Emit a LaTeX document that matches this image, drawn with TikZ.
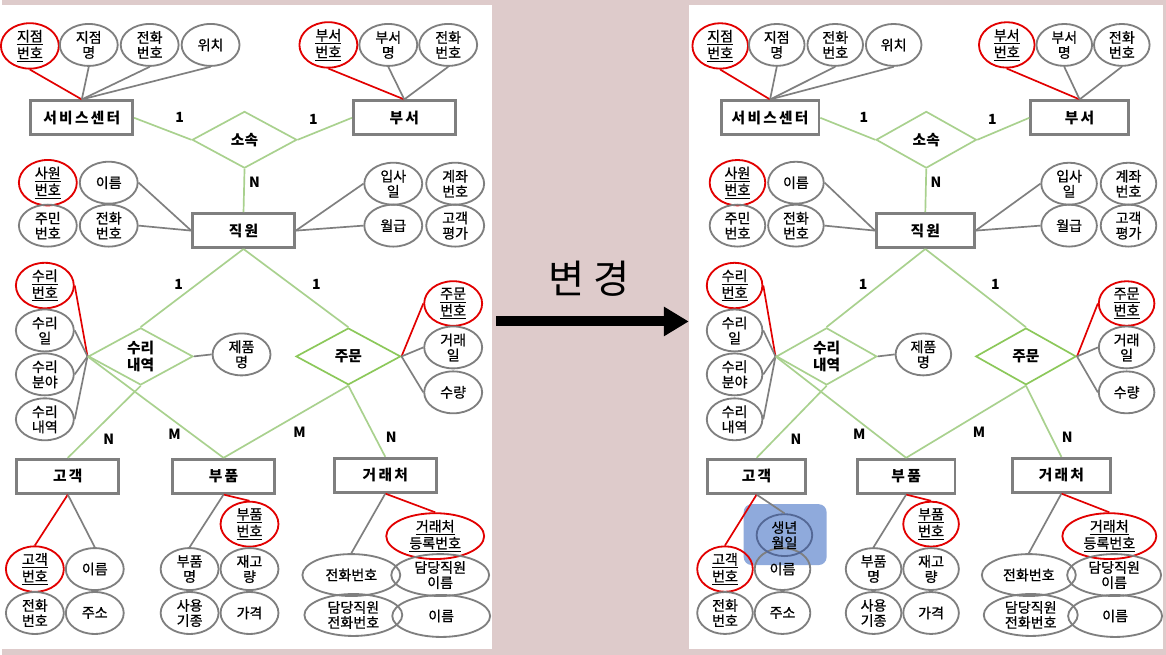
\documentclass[tikz,border=0pt]{standalone}
\usepackage{fontspec}
\setmainfont{Noto Sans CJK KR}
\newfontfamily\boxfont[LetterSpace=15]{Noto Sans CJK KR}
\newfontfamily\attrfont[FakeBold=0.8]{Noto Sans CJK KR}
\usetikzlibrary{shapes.geometric,arrows.meta}

\definecolor{bgpink}{RGB}{222,203,203}
\definecolor{relgreen}{RGB}{169,209,142}
\definecolor{ordgreen}{RGB}{140,200,90}
\definecolor{attrgray}{RGB}{127,127,127}
\definecolor{keyred}{RGB}{226,0,0}
\definecolor{newblue}{RGB}{143,170,220}
\definecolor{newedge}{RGB}{84,104,150}

\newcommand{\pw}{1}

\tikzset{
	entity/.style={draw=attrgray, line width=2pt, minimum width=\pw*2.55cm, minimum height=0.85cm, inner sep=0pt, font=\boxfont\bfseries\fontsize{10.5}{12}\selectfont},
	attr/.style={ellipse, draw=attrgray, line width=1.3pt, minimum width=\pw*1.45cm, minimum height=1.05cm, inner sep=0pt, align=center, font=\attrfont\fontsize{10}{10.8}\selectfont},
	keyattr/.style={attr, draw=keyred},
	wideattr/.style={attr, minimum width=\pw*2.45cm},
	relation/.style={diamond, draw=relgreen, line width=1.2pt, minimum width=\pw*2.62cm, minimum height=1.42cm, inner sep=0pt, align=center, font=\bfseries\fontsize{10.5}{11.5}\selectfont},
	attrline/.style={draw=attrgray, line width=1.2pt},
	keyline/.style={draw=keyred, line width=1.2pt},
	relline/.style={draw=relgreen, line width=1.2pt},
	card/.style={font=\bfseries\fontsize{10}{12}\selectfont},
}

% one ER panel, coordinates in pixels
\newcommand{\erpanel}{%
	% entities
	\node[entity] (svc) at (80,118) {서비스센터};
	\node[entity] (dept) at (403,118) {부서};
	\node[entity] (emp) at (242,231) {직원};
	\node[entity] (cust) at (66,477) {고객};
	\node[entity] (part) at (222,477) {부품};
	\node[entity] (vend) at (384,476) {거래처};
	% relations
	\node[relation] (belong) at (243,140) {소속};
	\node[relation] (repair) at (139,357) {수리\\내역};
	\node[relation, draw=ordgreen] (order) at (347,357) {주문};
	% attributes
	\node[keyattr] (svc-id) at (28,46) {\underline{지점}\\\underline{번호}};
	\node[attr] (svc-name) at (87,45) {지점\\명};
	\node[attr] (svc-tel) at (148,45) {전화\\번호};
	\node[attr] (svc-loc) at (209,45) {위치};
	\node[keyattr] (dept-id) at (327,45) {\underline{부서}\\\underline{번호}};
	\node[attr] (dept-name) at (387,45) {부서\\명};
	\node[attr] (dept-tel) at (447,45) {전화\\번호};
	\node[keyattr] (emp-id) at (46,183) {\underline{사원}\\\underline{번호}};
	\node[attr] (emp-name) at (107,183) {이름};
	\node[attr] (emp-rrn) at (46,226) {주민\\번호};
	\node[attr] (emp-tel) at (107,226) {전화\\번호};
	\node[attr] (emp-hire) at (392,184) {입사\\일};
	\node[attr] (emp-acct) at (454,184) {계좌\\번호};
	\node[attr] (emp-pay) at (392,226) {월급};
	\node[attr] (emp-eval) at (454,226) {고객\\평가};
	\node[keyattr] (rep-id) at (43,286) {\underline{수리}\\\underline{번호}};
	\node[attr] (rep-date) at (43,331) {수리\\일};
	\node[attr] (rep-field) at (43,375) {수리\\분야};
	\node[attr] (rep-desc) at (43,420) {수리\\내역};
	\node[attr] (prod-name) at (240,355) {제품\\명};
	\node[keyattr] (ord-id) at (452,304) {\underline{주문}\\\underline{번호}};
	\node[attr] (ord-date) at (452,348) {거래\\일};
	\node[attr] (ord-qty) at (452,393) {수량};
	\node[keyattr] (cust-id) at (33,570) {\underline{고객}\\\underline{번호}};
	\node[attr] (cust-name) at (93,570) {이름};
	\node[attr] (cust-tel) at (33,614) {전화\\번호};
	\node[attr] (cust-addr) at (93,614) {주소};
	\node[keyattr] (part-id) at (248,525) {\underline{부품}\\\underline{번호}};
	\node[attr] (part-name) at (188,570) {부품\\명};
	\node[attr] (part-stock) at (248,570) {재고\\량};
	\node[attr] (part-model) at (188,614) {사용\\기종};
	\node[attr] (part-price) at (248,614) {가격};
	\node[keyattr, wideattr, draw=keyred] (vend-id) at (434,537) {\underline{거래처}\\\underline{등록번호}};
	\node[wideattr] (vend-tel) at (350,576) {전화번호};
	\node[wideattr] (vend-staff) at (439,576) {담당직원\\이름};
	\node[wideattr] (vend-stafftel) at (352,616) {담당직원\\전화번호};
	\node[wideattr] (vend-name) at (440,617) {이름};
	% attribute lines
	\draw[keyline] (svc-id.south) -- (svc.north);
	\foreach \a in {svc-name,svc-tel,svc-loc}
		\draw[attrline] (\a.south) -- (svc.north);
	\draw[keyline] (dept-id.south) -- (dept.north);
	\foreach \a in {dept-name,dept-tel}
		\draw[attrline] (\a.south) -- (dept.north);
	\foreach \a in {emp-name,emp-tel}
		\draw[attrline] (\a.east) -- (emp.west);
	\foreach \a in {emp-hire,emp-pay}
		\draw[attrline] (\a.west) -- (emp.east);
	\draw[keyline] (rep-id.east) -- (repair.west);
	\foreach \a in {rep-date,rep-field,rep-desc}
		\draw[attrline] (\a.east) -- (repair.west);
	\draw[attrline] (repair.east) -- (prod-name.west);
	\draw[keyline] (ord-id.west) -- (order.east);
	\foreach \a in {ord-date,ord-qty}
		\draw[attrline] (\a.west) -- (order.east);
	\draw[keyline] (cust.south) -- (cust-id.north);
	\draw[keyline] (part.south) -- (part-id.north);
	\draw[attrline] (part.south) -- (part-name.north);
	\draw[keyline] (vend.south) -- (vend-id.north);
	\draw[attrline] (vend.south) -- (vend-tel.north);
	% relation lines
	\draw[relline] (svc.east) -- (belong.west);
	\draw[relline] (belong.east) -- (dept.west);
	\draw[relline] (belong.south) -- (emp.north);
	\draw[relline] (emp.south) -- (repair.north);
	\draw[relline] (emp.south) -- (order.north);
	\draw[relline] (repair.south) -- (cust.north);
	\draw[relline] (repair.west) -- (part.north);
	\draw[relline] (order.south) -- (part.north);
	\draw[relline] (order.south) -- (vend.north);
	% cardinalities
	\node[card] (c-svc) at (178,118) {1};
	\node[card] (c-dept) at (312,120) {1};
	\node[card] (c-emp) at (253,183) {N};
	\node[card] (c-rep) at (177,285) {1};
	\node[card] (c-ord) at (315,285) {1};
	\node[card] (c-cust) at (107,440) {N};
	\node[card] (c-part1) at (173,435) {M};
	\node[card] (c-part2) at (298,433) {M};
	\node[card] (c-vend) at (390,438) {N};
}

\begin{document}
\begin{tikzpicture}[x=0.025cm, y=-0.025cm]
	\fill[bgpink] (0,0) rectangle (1166,656);
	\fill[white] (0,5) rectangle (491,650);
	\fill[white] (688,5) rectangle (1163,650);
	% before
	\begin{scope}[name prefix=L-]
		\erpanel
		\draw[attrline] (cust.south) -- (cust-name.north);
	\end{scope}
	% change arrow
	\node[font=\fontsize{28}{30}\selectfont] (chg) at (588,279) {변 경};
	\coordinate (arr-from) at (495,322);
	\coordinate (arr-to) at (688,322);
	\draw[line width=7.1pt, -{Triangle[length=17.8pt,width=19.9pt]}] (arr-from) -- (arr-to);
	% after
	\begin{scope}[name prefix=R-, shift={(692.6,0)}, xscale=0.96]
		\renewcommand{\pw}{0.96}
		\fill[newblue, rounded corners=0.2cm] (52.5,505) rectangle (139,566);
		\erpanel
		\node[attr, draw=newedge] (cust-born) at (95,536) {생년\\월일};
		\draw[attrline] (cust.south) -- (cust-born.north);
	\end{scope}
\end{tikzpicture}
\end{document}
